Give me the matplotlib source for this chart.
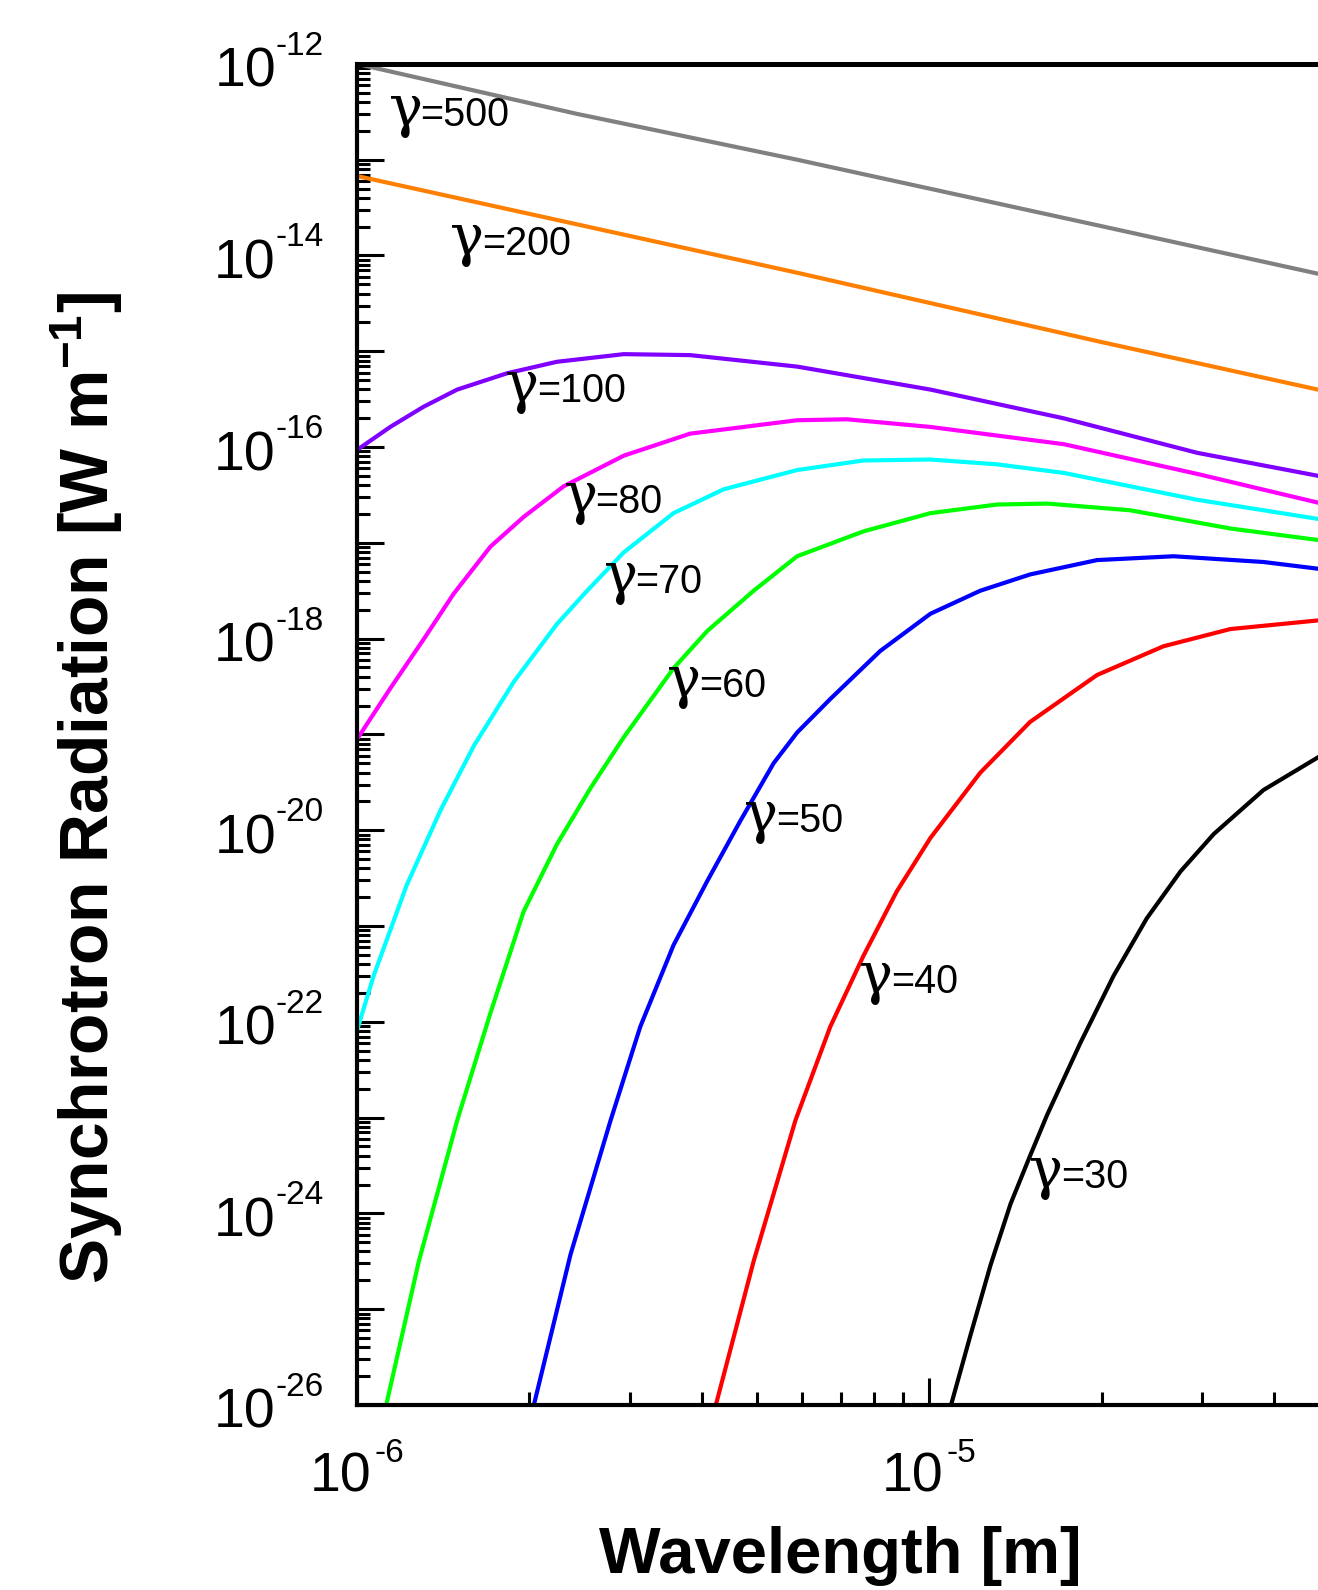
import numpy as np
import matplotlib
matplotlib.use("Agg")
import matplotlib.pyplot as plt
from matplotlib import transforms as mtransforms
from matplotlib.ticker import LogLocator, NullFormatter

plt.rcParams['font.family'] = ['Liberation Sans', 'DejaVu Sans']
plt.rcParams['mathtext.fontset'] = 'custom'
plt.rcParams['mathtext.rm'] = 'Liberation Sans'
plt.rcParams['mathtext.bf'] = 'Liberation Sans:bold'
plt.rcParams['mathtext.it'] = 'Liberation Sans:italic'

# ------------------------------------------------
# data: log10(wavelength [m]) and log10(power [W m^-1])
lam_500 = [-6.0, -5.617, -5.231, -4.702, -4.321, -4.30]
pow_500 = [-12.0, -12.52, -13.0, -13.69, -14.19, -14.22]

lam_200 = [-6.0, -5.231, -4.702, -4.321, -4.30]
pow_200 = [-13.17, -14.18, -14.90, -15.40, -15.43]

lam_100 = [-6.0, -5.942, -5.884, -5.825, -5.738, -5.651, -5.534, -5.418,
           -5.231, -4.998, -4.765, -4.532, -4.321, -4.30]
pow_100 = [-16.03, -15.79, -15.58, -15.40, -15.23, -15.11, -15.03, -15.04,
           -15.16, -15.40, -15.70, -16.06, -16.30, -16.33]

lam_80 = [-6.0, -5.942, -5.884, -5.831, -5.767, -5.709, -5.639, -5.534,
          -5.418, -5.231, -5.144, -4.998, -4.765, -4.532, -4.321, -4.30]
pow_80 = [-19.05, -18.52, -18.01, -17.53, -17.04, -16.73, -16.41, -16.09,
          -15.86, -15.72, -15.71, -15.79, -15.97, -16.28, -16.58, -16.61]

lam_70 = [-6.0, -5.971, -5.913, -5.854, -5.796, -5.726, -5.651, -5.598,
          -5.534, -5.447, -5.359, -5.231, -5.115, -4.998, -4.882, -4.765,
          -4.532, -4.321, -4.30]
pow_70 = [-22.09, -21.52, -20.57, -19.79, -19.12, -18.45, -17.85, -17.50,
          -17.10, -16.69, -16.44, -16.24, -16.14, -16.13, -16.18, -16.27,
          -16.55, -16.75, -16.77]

lam_60 = [-5.949, -5.892, -5.825, -5.767, -5.709, -5.651, -5.592, -5.534,
          -5.447, -5.388, -5.307, -5.231, -5.115, -4.998, -4.882, -4.794,
          -4.649, -4.474, -4.321, -4.30]
pow_60 = [-26.0, -24.50, -23.03, -21.91, -20.85, -20.15, -19.56, -19.03,
          -18.31, -17.92, -17.50, -17.14, -16.88, -16.69, -16.60, -16.59,
          -16.66, -16.85, -16.97, -16.99]

lam_50 = [-5.691, -5.627, -5.557, -5.505, -5.447, -5.388, -5.330, -5.272,
          -5.231, -5.173, -5.086, -4.998, -4.911, -4.824, -4.707, -4.573,
          -4.416, -4.321, -4.30]
pow_50 = [-26.0, -24.43, -23.03, -22.05, -21.20, -20.53, -19.90, -19.30,
          -18.98, -18.63, -18.13, -17.74, -17.50, -17.33, -17.18, -17.14,
          -17.20, -17.27, -17.29]

lam_40 = [-5.373, -5.307, -5.234, -5.173, -5.115, -5.057, -4.998, -4.911,
          -4.824, -4.707, -4.591, -4.474, -4.321, -4.30]
pow_40 = [-26.0, -24.50, -23.03, -22.05, -21.31, -20.64, -20.08, -19.40,
          -18.87, -18.38, -18.08, -17.90, -17.81, -17.80]

lam_30 = [-4.962, -4.928, -4.893, -4.858, -4.824, -4.794, -4.736, -4.678,
          -4.620, -4.561, -4.503, -4.416, -4.321, -4.30]
pow_30 = [-26.0, -25.27, -24.54, -23.90, -23.40, -22.97, -22.22, -21.52,
          -20.92, -20.43, -20.04, -19.58, -19.24, -19.16]

gammas = ['500', '200', '100', '80', '70', '60', '50', '40', '30']
colors = ['#808080', '#FF8000', '#8000FF', '#FF00FF', '#00FFFF',
          '#00FF00', '#0000FF', '#FF0000', '#000000']
curves = [(lam_500, pow_500), (lam_200, pow_200), (lam_100, pow_100),
          (lam_80, pow_80), (lam_70, pow_70), (lam_60, pow_60),
          (lam_50, pow_50), (lam_40, pow_40), (lam_30, pow_30)]

# label anchors (log10 wavelength, log10 power) for the gamma annotations
label_lam = [-5.945, -5.837, -5.741, -5.639, -5.569, -5.458, -5.324, -5.123, -4.826]
label_pow = [-12.648, -14.0, -15.526, -16.692, -17.528, -18.609, -20.015, -21.697, -23.735]

y_decades = list(range(-26, -11))
y_labelled = [-12, -14, -16, -18, -20, -22, -24, -26]
x_decades = [-6, -5, -4]
x_labelled = [-6, -5]

# ------------------------------------------------
fig = plt.figure(figsize=(13.18, 15.90), dpi=100)
ax = fig.add_axes([0.2709, 0.1164, 0.8684, 0.8434])
renderer = fig.canvas.get_renderer()
PT = 72.0 / fig.dpi  # pixels -> points

for (lam, pw), c in zip(curves, colors):
    ax.plot(10.0 ** np.array(lam), 10.0 ** np.array(pw), color=c, lw=3.0,
            solid_joinstyle='round')

ax.set_xscale('log')
ax.set_yscale('log')
ax.set_yticks([10.0 ** e for e in y_decades])
ax.set_xticks([10.0 ** e for e in x_decades])
ax.yaxis.set_minor_locator(LogLocator(base=10, subs=np.arange(2, 10), numticks=100))
ax.xaxis.set_minor_locator(LogLocator(base=10, subs=np.arange(2, 10), numticks=100))
ax.yaxis.set_minor_formatter(NullFormatter())
ax.xaxis.set_minor_formatter(NullFormatter())
ax.set_xlim(1e-6, 1e-4)
ax.set_ylim(1e-26, 1e-12)

ax.tick_params(which='major', direction='in', length=19.5, width=2.2,
               top=False, right=False, labelleft=False, labelbottom=False)
ax.tick_params(which='minor', direction='in', length=9.5, width=2.2,
               top=False, right=False)
for s in ['left', 'bottom']:
    ax.spines[s].set_linewidth(3.0)
ax.spines['top'].set_linewidth(3.6)
ax.spines['right'].set_visible(False)

# tick labels drawn as "10" plus a raised exponent with a plain hyphen
ytr = mtransforms.blended_transform_factory(ax.transAxes, ax.transData)
for e in y_labelled:
    ex = ax.text(0, 10.0 ** e, str(e), fontsize=24, ha='right', va='baseline',
                 transform=mtransforms.offset_copy(ytr, fig=fig, x=-33 * PT, y=9 * PT, units='points'))
    w_exp = ex.get_window_extent(renderer=renderer).width
    ax.text(0, 10.0 ** e, '10', fontsize=40, ha='right', va='baseline',
            transform=mtransforms.offset_copy(ytr, fig=fig, x=-(33 + w_exp) * PT, y=-23 * PT, units='points'))

xtr = mtransforms.blended_transform_factory(ax.transData, ax.transAxes)
for e in x_labelled:
    base = ax.text(0, 0, '10', fontsize=40)
    ex = ax.text(0, 0, str(e), fontsize=24)
    w10 = base.get_window_extent(renderer=renderer).width
    wex = ex.get_window_extent(renderer=renderer).width
    base.remove()
    ex.remove()
    left = -(w10 + 3 + wex) / 2.0
    ax.text(10.0 ** e, 0, '10', fontsize=40, ha='left', va='baseline',
            transform=mtransforms.offset_copy(xtr, fig=fig, x=left * PT, y=-87 * PT, units='points'))
    ax.text(10.0 ** e, 0, str(e), fontsize=24, ha='left', va='baseline',
            transform=mtransforms.offset_copy(xtr, fig=fig, x=(left + w10 + 3) * PT, y=-57 * PT, units='points'))

# gamma labels: serif gamma followed by sans "=value"
for g, lx, ly in zip(gammas, label_lam, label_pow):
    x, y = 10.0 ** lx, 10.0 ** ly
    t = ax.text(x, y, '\u03b3', fontsize=41, family=['DejaVu Serif'],
                va='baseline', ha='left')
    w = t.get_window_extent(renderer=renderer).width * PT
    tr = mtransforms.offset_copy(ax.transData, fig=fig, x=w - 1.5, y=0, units='points')
    ax.text(x, y, '=' + g, fontsize=28.5, va='baseline', ha='left', transform=tr)

fig.text(840 / 1318, 1 - 1556 / 1590, 'Wavelength [m]', fontsize=47,
         fontweight='bold', ha='center', va='center')
fig.text(87 / 1318, 1 - 788 / 1590, r'Synchrotron Radiation [W m$^{\mathbf{-1}}$]',
         fontsize=48.8, fontweight='bold', rotation=90, ha='center', va='center')

fig.savefig('out.png', dpi=100)
